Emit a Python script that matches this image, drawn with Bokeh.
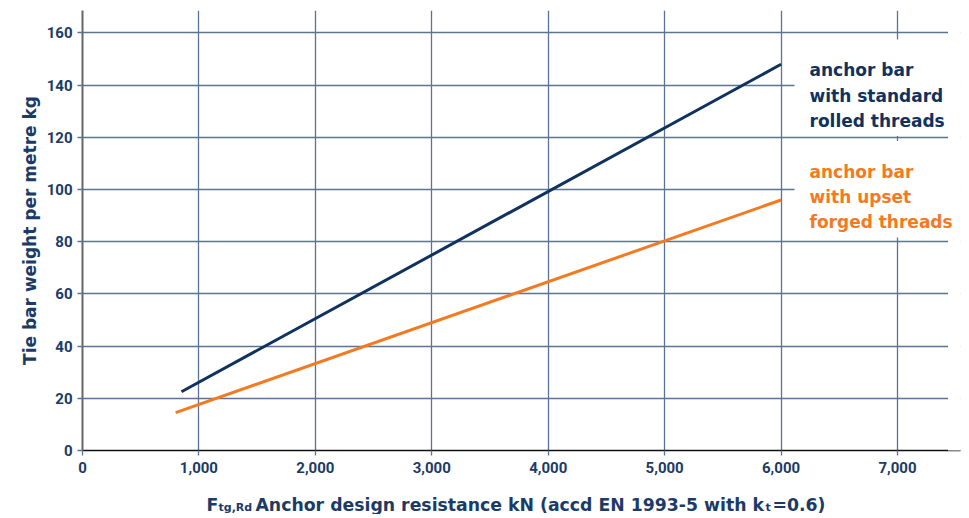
from bokeh.plotting import figure
from bokeh.layouts import column
from bokeh.models import BoxAnnotation, FixedTicker, NumeralTickFormatter, Range1d, Title, Label
from bokeh.core.properties import value
from bokeh.embed import file_html
from bokeh.resources import INLINE

# ---- data ----
resistance_standard = [850, 6000]
weight_standard = [22.5, 148.0]
resistance_upset = [800, 6000]
weight_upset = [14.5, 96.0]
x_ticks = [0, 1000, 2000, 3000, 4000, 5000, 6000, 7000]
y_ticks = [0, 20, 40, 60, 80, 100, 120, 140, 160]
standard_label = ["anchor bar", "with standard", "rolled threads"]
upset_label = ["anchor bar", "with upset", "forged threads"]
y_title = "Tie bar weight per metre kg"
x_title_main = ["F", "Anchor design resistance kN (accd EN 1993-5 with k", "=0.6)"]
x_title_sub = ["tg,Rd", "t"]

NAVY = "#0f325e"
TEXT = "#1b3b66"
ORANGE = "#f47a22"
GRID = "#5b7394"
TICK_FONT = "Roboto"
FONT = "DejaVu Sans"

W = 963
TOP, FRAME_H, BOTTOM = 10, 440, 30
LEFT = 82
FRAME_RIGHT_PX = 961

# frame geometry helpers (reference pixel -> data) for annotation placement
X0, XPX = 83.0, 116.43 / 1000.0
Y0, YPX = 451.0, 440.0 / 168.6


def dx(px):
    return (px - X0) / XPX


def dy(py):
    return (Y0 - py) / YPX


p = figure(width=W, height=TOP + FRAME_H + BOTTOM, output_backend="svg", toolbar_location=None,
           x_range=Range1d(0, dx(FRAME_RIGHT_PX)), y_range=Range1d(0, dy(11)),
           min_border_left=LEFT, min_border_right=W - LEFT - int(FRAME_RIGHT_PX - X0),
           min_border_top=TOP, min_border_bottom=BOTTOM)
p.outline_line_color = None

p.xaxis.ticker = FixedTicker(ticks=x_ticks)
p.yaxis.ticker = FixedTicker(ticks=y_ticks)
p.xaxis.formatter = NumeralTickFormatter(format="0,0")
p.xaxis.minor_tick_line_color = None
p.yaxis.minor_tick_line_color = None
for ax in (p.xaxis, p.yaxis):
    ax.major_label_text_font = TICK_FONT
    ax.major_label_text_font_style = "bold"
    ax.major_label_text_font_size = "15px"
    ax.major_label_text_color = TEXT
    ax.major_tick_line_color = GRID
    ax.major_tick_line_width = 1.3
    ax.major_tick_in = 0
    ax.major_tick_out = 5
p.xaxis.axis_line_color = "#111111"
p.xaxis.axis_line_width = 1.5
p.yaxis.axis_line_color = "#666666"
p.yaxis.axis_line_width = 2
p.xaxis.major_label_standoff = 6
p.yaxis.major_label_standoff = 5

p.xgrid.ticker = FixedTicker(ticks=x_ticks)
p.ygrid.ticker = FixedTicker(ticks=y_ticks)
p.grid.grid_line_color = GRID
p.grid.grid_line_width = 1.3

p.line(resistance_standard, weight_standard, line_color=NAVY, line_width=3)
p.line(resistance_upset, weight_upset, line_color=ORANGE, line_width=3)

# white cover so the grid ends at the reference's right edge, and boxes behind the labels
p.add_layout(BoxAnnotation(left=dx(948.5), right=dx(990), top=dy(-20), bottom=dy(470),
                           fill_color="white", fill_alpha=1, line_alpha=0))
p.add_layout(BoxAnnotation(left=dx(795), right=dx(990), top=dy(40), bottom=dy(136.5),
                           fill_color="white", fill_alpha=1, line_alpha=0))
p.add_layout(BoxAnnotation(left=dx(795), right=dx(990), top=dy(141.5), bottom=dy(238),
                           fill_color="white", fill_alpha=1, line_alpha=0))

for txt, py in zip(standard_label, [70.7, 96.2, 121.7]):
    p.add_layout(Label(x=dx(810), y=dy(py), text=txt, text_font=FONT,
                       text_font_style="bold", text_font_size="17px",
                       text_color=NAVY, text_baseline="alphabetic"))
for txt, py in zip(upset_label, [172.0, 197.3, 222.5]):
    p.add_layout(Label(x=dx(810), y=dy(py), text=txt, text_font=FONT,
                       text_font_style="bold", text_font_size="17px",
                       text_color=ORANGE, text_baseline="alphabetic"))

# y axis title
p.add_layout(Title(text=y_title, align="center", standoff=8,
                   text_font=FONT, text_font_style="bold", text_font_size="17px",
                   text_color=TEXT), "left")

# x axis title in its own strip (to allow subscripts); its frame aligns with the main frame,
# so its x data units are page pixels
QH = 34
q = figure(width=W, height=QH, output_backend="svg", toolbar_location=None,
           x_range=Range1d(X0, FRAME_RIGHT_PX), y_range=Range1d(0, QH),
           min_border_left=0, min_border_right=0, min_border_top=0, min_border_bottom=0)
q.axis.visible = False
q.grid.visible = False
q.outline_line_color = None
q.text(x=[207, 256, 773], y=[10, 10, 10], text=x_title_main, text_font=value(FONT),
       text_font_style="bold", text_font_size="17.3px", text_color=TEXT,
       text_baseline="alphabetic")
q.text(x=[219, 766], y=[7, 7], text=x_title_sub, text_font=value(FONT),
       text_font_style="bold", text_font_size="11px", text_color=TEXT,
       text_baseline="alphabetic")

layout = column(p, q, spacing=0)
open("out.html", "w").write(file_html(layout, INLINE))
